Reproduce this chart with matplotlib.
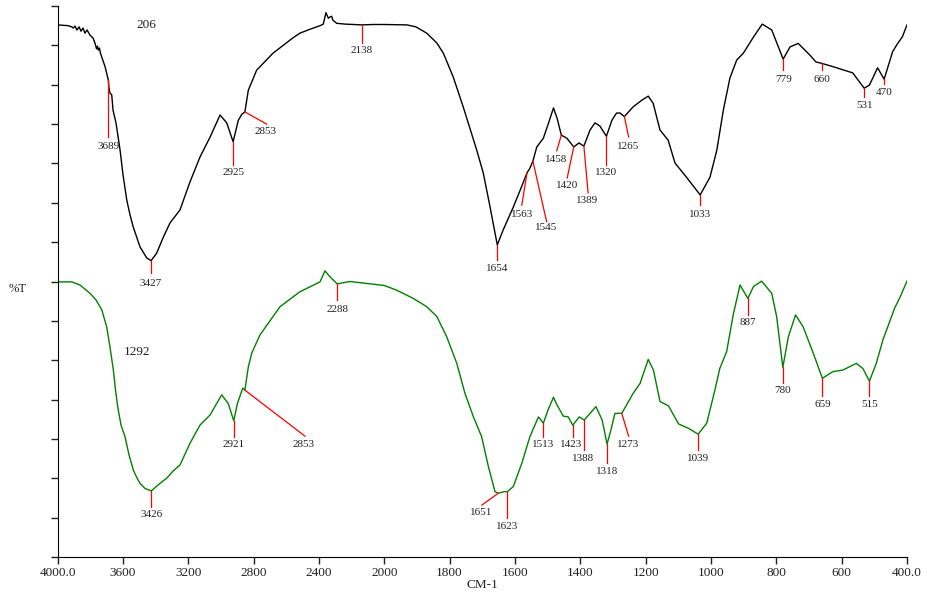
import matplotlib
matplotlib.use("Agg")
import matplotlib.pyplot as plt
import numpy as np

plt.rcParams['font.family'] = ['Liberation Serif', 'DejaVu Serif']

# sample 206 (black, upper trace)
w206 = [4000, 3934, 3913, 3903, 3893, 3881, 3868, 3856, 3844, 3832, 3819, 3801, 3783, 3770,
        3761, 3755, 3750, 3743, 3737, 3709, 3689, 3685, 3679, 3668, 3660, 3642, 3617, 3599,
        3576, 3556, 3536, 3495, 3454, 3427, 3393, 3352, 3311, 3250, 3189, 3128, 3066, 3005,
        2964, 2925, 2893, 2871, 2853, 2832, 2781, 2681, 2559, 2516, 2454, 2393, 2373, 2357,
        2342, 2332, 2322, 2314, 2291, 2240, 2138, 2067, 2000, 1931, 1903, 1870, 1839, 1819,
        1789, 1758, 1733, 1717, 1697, 1676, 1654, 1636, 1605, 1584, 1563, 1554, 1545, 1533,
        1513, 1499, 1482, 1471, 1458, 1441, 1420, 1404, 1389, 1370, 1355, 1340, 1320, 1303,
        1289, 1278, 1265, 1238, 1211, 1192, 1177, 1156, 1131, 1110, 1075, 1033, 1003, 982,
        962, 942, 921, 901, 870, 843, 814, 779, 758, 733, 697, 679, 660, 627, 566, 531, 515,
        490, 470, 444, 430, 414, 400]
t206 = [13.52, 13.50, 13.47, 13.44, 13.49, 13.39, 13.47, 13.36, 13.44, 13.31, 13.39, 13.26,
        13.19, 13.05, 12.91, 12.98, 12.88, 12.93, 12.80, 12.46, 12.12, 11.92, 11.79, 11.74,
        11.35, 11.03, 10.34, 9.71, 9.07, 8.69, 8.38, 7.88, 7.60, 7.53, 7.72, 8.13, 8.49, 8.82,
        9.53, 10.16, 10.67, 11.23, 11.03, 10.55, 11.10, 11.25, 11.31, 11.86, 12.37, 12.80,
        13.19, 13.31, 13.41, 13.50, 13.54, 13.83, 13.69, 13.72, 13.74, 13.64, 13.56, 13.54,
        13.52, 13.53, 13.53, 13.52, 13.47, 13.31, 13.06, 12.80, 12.20, 11.43, 10.77, 10.34,
        9.76, 8.89, 7.93, 8.31, 8.89, 9.32, 9.76, 9.88, 10.06, 10.42, 10.64, 10.98, 11.41,
        11.15, 10.72, 10.64, 10.42, 10.52, 10.44, 10.85, 11.03, 10.95, 10.69, 11.10, 11.28,
        11.28, 11.19, 11.44, 11.61, 11.71, 11.53, 10.85, 10.59, 10.01, 9.65, 9.20, 9.65,
        10.34, 11.36, 12.17, 12.63, 12.80, 13.21, 13.54, 13.39, 12.65, 12.96, 13.05, 12.75,
        12.58, 12.54, 12.46, 12.30, 11.91, 11.99, 12.43, 12.14, 12.84, 13.03, 13.22, 13.52]

# sample 1292 (green, lower trace)
w1292 = [4000, 3913, 3862, 3801, 3764, 3729, 3699, 3679, 3658, 3645, 3628, 3611, 3587, 3562,
         3536, 3516, 3495, 3464, 3426, 3373, 3332, 3291, 3250, 3189, 3128, 3066, 2995, 2955,
         2921, 2899, 2866, 2853, 2832, 2811, 2761, 2638, 2516, 2393, 2363, 2332, 2288, 2209,
         2107, 2000, 1962, 1911, 1870, 1839, 1809, 1778, 1753, 1727, 1702, 1681, 1661, 1651,
         1633, 1623, 1605, 1579, 1554, 1528, 1513, 1499, 1482, 1471, 1452, 1437, 1423, 1403,
         1388, 1352, 1333, 1318, 1306, 1294, 1273, 1238, 1217, 1192, 1176, 1156, 1130, 1099,
         1069, 1039, 1013, 988, 973, 952, 931, 911, 887, 870, 845, 814, 799, 780, 763, 741,
         718, 687, 659, 627, 596, 555, 535, 515, 494, 474, 438, 423, 400]
t1292 = [6.99, 6.99, 6.91, 6.70, 6.53, 6.28, 5.85, 5.34, 4.75, 4.24, 3.73, 3.35, 3.06, 2.59,
         2.21, 2.03, 1.87, 1.74, 1.68, 1.87, 2.00, 2.19, 2.34, 2.89, 3.35, 3.61, 4.12, 3.90,
         3.46, 3.90, 4.29, 4.24, 4.83, 5.18, 5.64, 6.36, 6.74, 6.99, 7.27, 7.12, 6.94, 7.00,
         6.95, 6.90, 6.78, 6.57, 6.36, 6.11, 5.60, 4.92, 4.16, 3.56, 3.06, 2.29, 1.66, 1.62,
         1.66, 1.66, 1.79, 2.38, 3.06, 3.56, 3.40, 3.73, 4.06, 3.86, 3.58, 3.56, 3.35, 3.56,
         3.48, 3.82, 3.48, 2.87, 3.23, 3.65, 3.65, 4.16, 4.41, 5.02, 4.75, 3.95, 3.84, 3.38,
         3.27, 3.12, 3.40, 4.24, 4.79, 5.22, 6.19, 6.91, 6.57, 6.87, 7.01, 6.70, 6.11, 4.82,
         5.60, 6.15, 5.85, 5.18, 4.54, 4.71, 4.75, 4.92, 4.79, 4.47, 4.92, 5.51, 6.32, 6.57,
         7.01]

# peak marks: label, peak x, peak y, line end x, line end y, label x, label y
peaks206 = [
    ("3689", 3689, 12.12, 3689, 10.67, 3689, 10.44),
    ("3427", 3427, 7.53, 3427, 7.22, 3427, 6.96),
    ("2925", 2925, 10.55, 2925, 9.96, 2925, 9.76),
    ("2853", 2853, 11.31, 2720, 11.00, 2724, 10.80),
    ("2138", 2138, 13.52, 2138, 13.06, 2138, 12.86),
    ("1654", 1654, 7.93, 1654, 7.55, 1654, 7.34),
    ("1563", 1563, 9.76, 1579, 8.94, 1579, 8.71),
    ("1545", 1545, 10.06, 1503, 8.52, 1505, 8.37),
    ("1458", 1458, 10.72, 1472, 10.32, 1475, 10.10),
    ("1420", 1420, 10.42, 1440, 9.63, 1441, 9.43),
    ("1389", 1389, 10.44, 1376, 9.25, 1378, 9.05),
    ("1320", 1320, 10.69, 1320, 9.96, 1320, 9.76),
    ("1265", 1265, 11.19, 1252, 10.67, 1255, 10.44),
    ("1033", 1033, 9.20, 1033, 8.94, 1033, 8.71),
    ("779", 779, 12.65, 779, 12.37, 779, 12.14),
    ("660", 660, 12.54, 660, 12.37, 660, 12.14),
    ("531", 531, 11.91, 531, 11.69, 531, 11.48),
    ("470", 470, 12.14, 470, 12.02, 470, 11.81),
]
peaks1292 = [
    ("3426", 3426, 1.68, 3426, 1.27, 3426, 1.08),
    ("2921", 2921, 3.46, 2921, 3.06, 2921, 2.86),
    ("2853", 2853, 4.24, 2485, 3.07, 2495, 2.86),
    ("2288", 2288, 6.94, 2288, 6.53, 2288, 6.29),
    ("1651", 1651, 1.62, 1701, 1.32, 1702, 1.14),
    ("1623", 1623, 1.66, 1623, 0.99, 1623, 0.77),
    ("1513", 1513, 3.40, 1513, 3.06, 1513, 2.86),
    ("1423", 1423, 3.35, 1423, 3.06, 1428, 2.86),
    ("1388", 1388, 3.48, 1388, 2.72, 1391, 2.51),
    ("1318", 1318, 2.87, 1318, 2.38, 1318, 2.17),
    ("1273", 1273, 3.65, 1252, 3.07, 1255, 2.86),
    ("1039", 1039, 3.12, 1039, 2.72, 1039, 2.51),
    ("887", 887, 6.57, 887, 6.16, 887, 5.95),
    ("780", 780, 4.82, 780, 4.43, 780, 4.23),
    ("659", 659, 4.54, 659, 4.09, 659, 3.88),
    ("515", 515, 4.47, 515, 4.09, 515, 3.88),
]

xticks = [4000, 3600, 3200, 2800, 2400, 2000, 1800, 1600, 1400, 1200, 1000, 800, 600, 400]
xticklabels = ["4000.0", "3600", "3200", "2800", "2400", "2000", "1800", "1600", "1400",
               "1200", "1000", "800", "600", "400.0"]


# FTIR style axis: 400 cm-1 per division above 2000, 200 cm-1 per division below
def fwd(w):
    w = np.asarray(w, dtype=float)
    return np.where(w <= 2000, w / 200.0, 10.0 + (w - 2000.0) / 400.0)


def inv(u):
    u = np.asarray(u, dtype=float)
    return np.where(u <= 10, u * 200.0, 2000.0 + (u - 10.0) * 400.0)


fig = plt.figure(figsize=(9.27, 5.94), dpi=100)
ax = fig.add_axes([57.5 / 927, 1 - 557 / 594, (907 - 57.5) / 927, (557 - 6) / 594])
ax.set_xscale('function', functions=(fwd, inv))

ax.plot(w206, t206, color='black', lw=1.0)
ax.plot(w1292, t1292, color='green', lw=1.0)

for peaks in (peaks206, peaks1292):
    for lab, x0, y0, x1, y1, xl, yl in peaks:
        ax.plot([x0, x1], [y0, y1], color='red', lw=0.9)
        ax.text(xl, yl, lab, ha='center', va='center', fontsize=8, color='#222222')

ax.text(3454, 13.52, "206", ha='center', va='center', fontsize=9.5, color='#222222')
ax.text(3512, 5.22, "1292", ha='center', va='center', fontsize=9.5, color='#222222')
fig.text(18 / 927, 1 - 289 / 594, "%T", ha='center', va='center', fontsize=9, color='#222222')

ax.set_xlim(4000, 400)
ax.set_ylim(0, 14)
ax.set_xticks(xticks)
ax.set_xticklabels(xticklabels)
ax.set_yticks(range(15))
ax.set_yticklabels([])
ax.minorticks_off()
ax.set_xlabel("CM-1", fontsize=9.5, labelpad=0, color='#222222')
ax.tick_params(axis='both', direction='out', length=5, width=1, labelsize=9.5,
               colors='#222222', pad=2)
ax.spines['top'].set_visible(False)
ax.spines['right'].set_visible(False)

fig.savefig("out.png", dpi=100)
